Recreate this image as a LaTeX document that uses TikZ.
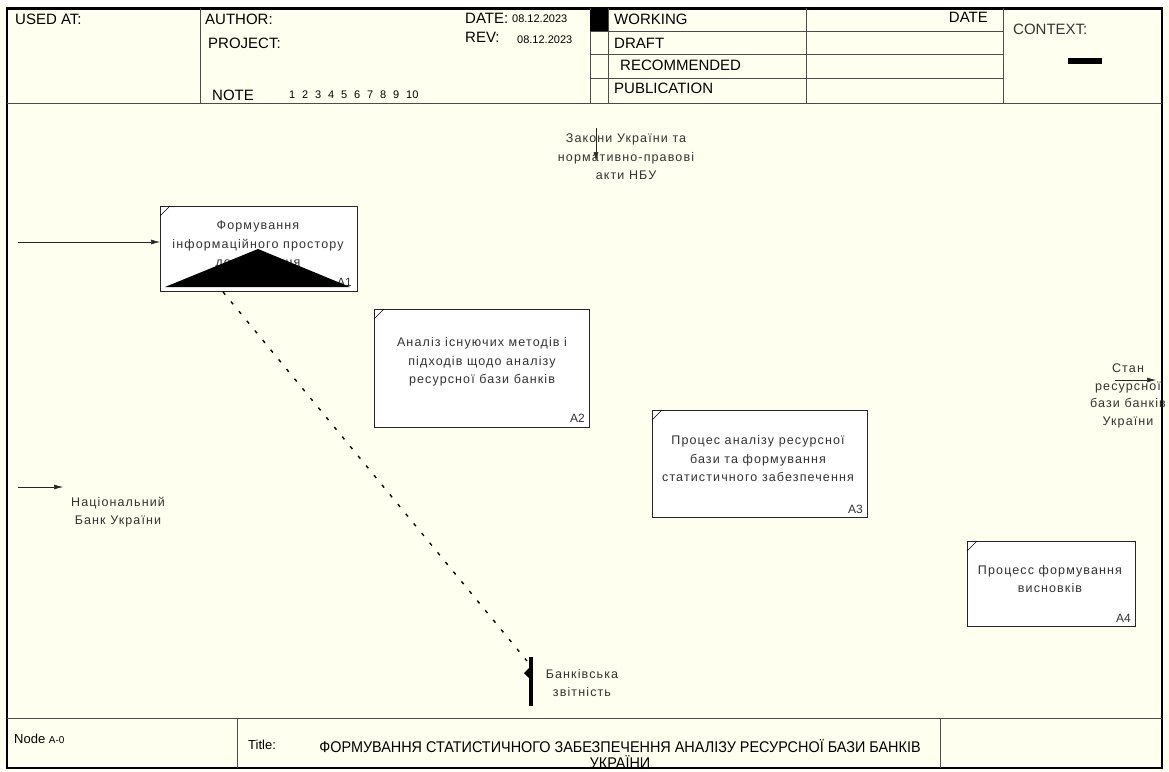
\documentclass[tikz,border=0pt]{standalone}
\usepackage{fontspec}
\setmainfont{Liberation Sans}
\newfontfamily\narrowfont[FakeStretch=0.93]{Liberation Sans}
\newfontfamily\lblfont[LetterSpace=9]{Liberation Sans}
\usetikzlibrary{positioning,arrows.meta}

\definecolor{paper}{RGB}{255,255,240}
\definecolor{ink}{RGB}{50,50,50}

\tikzset{
  func/.style={draw=black!85,fill=white,line width=0.9pt,inner sep=0pt,anchor=north west},
  lbl/.style={align=center,font=\lblfont\fontsize{12.5}{18.5}\selectfont,text=ink,inner sep=0pt},
  hdr/.style={anchor=west,font=\fontsize{15}{18}\selectfont,inner sep=0pt},
  small/.style={anchor=west,font=\fontsize{11}{13}\selectfont,inner sep=0pt},
  grid/.style={draw=black!70,line width=0.6pt},
  flow/.style={-{Latex[length=9pt,width=5pt]},line width=0.6pt,black!85},
  fid/.style={anchor=south east,font=\fontsize{12}{13}\selectfont,text=ink,inner sep=0pt}
}

\begin{document}
\begin{tikzpicture}[x=1pt,y=-1pt]
\useasboundingbox (0,0) rectangle (1169,771);
\fill[paper] (0,0) rectangle (1169,771);
\fill[white] (0,0) rectangle (1169,5);
% frame
\draw[line width=1.6pt] (7,8) rectangle (1162,768);
\draw[line width=3pt] (7,8) -- (1162,8);
\draw[grid] (7,103) -- (1162,103);
\draw[grid] (7,718) -- (1162,718);
% header
\foreach \x in {200,590,608,806,1003} \draw[grid] (\x,8) -- (\x,103);
\foreach \y in {31,54,78} \draw[grid] (590,\y) -- (1003,\y);
\fill[black] (590,9.5) rectangle (608,31);
\node[hdr] (usedat) at (15,19) {USED AT:};
\node[hdr] (author) at (205,19) {AUTHOR:};
\node[hdr] (project) at (208,43) {PROJECT:};
\node[hdr] (note) at (212,95) {NOTE};
\foreach \n in {1,...,10} \node[small,font=\fontsize{11}{13}\selectfont] at ({289+(\n-1)*13},95) {\n};
\node[hdr] (date) at (465,18) {DATE:};
\node[small] at (512,19) {08.12.2023};
\node[hdr] (rev) at (465,37) {REV:};
\node[small] at (517,40) {08.12.2023};
\node[hdr] (working) at (614,19) {WORKING};
\node[hdr] (draft) at (614,43) {DRAFT};
\node[hdr] (recom) at (620,65) {RECOMMENDED};
\node[hdr] (publ) at (614,88) {PUBLICATION};
\node[hdr,anchor=east] (sdate) at (988,17) {DATE};
\node[hdr,text=black!80] (context) at (1013,29) {CONTEXT:};
\fill[black] (1068,58) rectangle (1102,64);
% footer
\draw[grid] (237,718) -- (237,768);
\draw[grid] (940,718) -- (940,768);
\node[anchor=west,inner sep=0pt,font=\fontsize{13}{15}\selectfont] (nodeid) at (14,739)
  {Node \fontsize{10}{12}\selectfont A-0};
\node[anchor=west,inner sep=0pt,font=\fontsize{13}{15}\selectfont] (titlelbl) at (248,745) {Title:};
\node[align=center,inner sep=0pt,font=\narrowfont\fontsize{15.5}{15.5}\selectfont] (title) at (620,754)
  {ФОРМУВАННЯ СТАТИСТИЧНОГО ЗАБЕЗПЕЧЕННЯ АНАЛІЗУ РЕСУРСНОЇ БАЗИ БАНКІВ\\УКРАЇНИ};
% function boxes
\node[func,minimum width=197pt,minimum height=85pt] (a1) at (160,206) {};
\node[func,minimum width=215pt,minimum height=118pt] (a2) at (374,309) {};
\node[func,minimum width=215pt,minimum height=107pt] (a3) at (652,410) {};
\node[func,minimum width=168pt,minimum height=85pt] (a4) at (967,541) {};
\foreach \b in {a1,a2,a3,a4} \draw[line width=0.6pt] (\b.north west) ++(0,10) -- ++(10,-10);
\node[lbl] at (258,245) {Формування\\інформаційного простору\\дослідження};
\node[fid] at (352,287) {A1};
\fill[black] (165,287) -- (258,249) -- (350,287) -- cycle;
\node[lbl] at (482,362) {Аналіз існуючих методів і\\підходів щодо аналізу\\ресурсної бази банків};
\node[fid] at (585,423) {A2};
\node[lbl] at (758,459) {Процес аналізу ресурсної\\бази та формування\\статистичного забезпечення};
\node[lbl] at (1050,579) {Процесс формування\\висновків};
\node[fid] at (863,514) {A3};
\node[fid] at (1131,623) {A4};
% arrows
\coordinate (in1) at (18,242);
\draw[flow] (in1) -- (a1.west |- in1);
\coordinate (nbu) at (18,487);
\coordinate (nbuend) at (63,487);
\draw[flow] (nbu) -- (nbuend);
\node[lbl] (nbulbl) at (118,512) {Національний\\Банк України};
\coordinate (law) at (596,128);
\coordinate (lawend) at (596,161);
\draw[flow] (law) -- (lawend);
\node[lbl] (lawlbl) at (626,157) {Закони України та\\нормативно-правові\\акти НБУ};
\coordinate (out) at (1115,380);
\coordinate (outend) at (1156,380);
\draw[flow] (out) -- (outend);
\node[lbl,font=\lblfont\fontsize{12.5}{17.5}\selectfont] (outlbl) at (1128,396) {Стан\\ресурсної\\бази банків\\України};
\coordinate (rep) at (531,657);
\coordinate (repend) at (531,706);
\draw[line width=3.5pt] (rep) -- (repend);
\fill[black] (524,673) -- (530,667) -- (530,679) -- cycle;
\draw[line width=1.4pt,dash pattern=on 3.5pt off 9pt] (a1.south west) ++(63,0) -- (527,661);
\node[lbl] (replbl) at (582,683) {Банківська\\звітність};
\end{tikzpicture}
\end{document}
